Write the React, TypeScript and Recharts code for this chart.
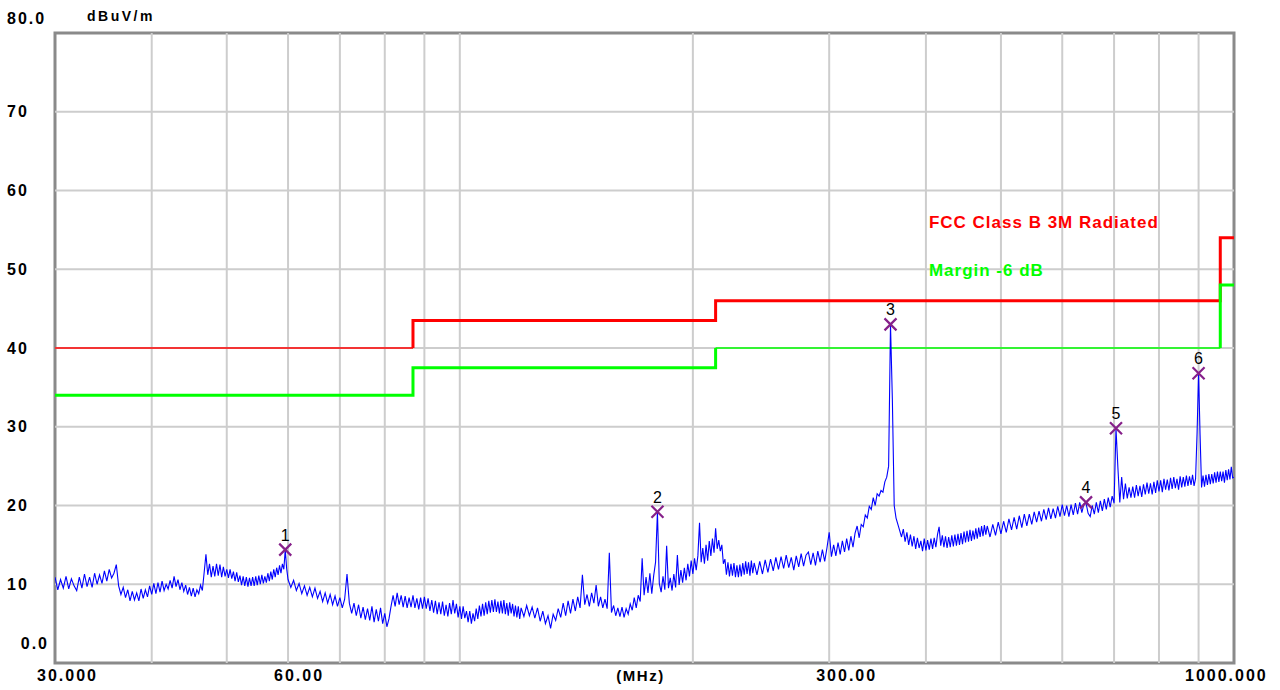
import React from "react";
import {
  ComposedChart,
  Line,
  XAxis,
  YAxis,
  ReferenceLine,
  ReferenceArea,
  ReferenceDot,
} from "recharts";

type P = [number, number];

// Measured trace (frequency MHz, level dBuV/m)
const trace30to60: P[] = [
  [30, 10.9], [30.25, 9.3], [30.5, 10.6], [30.75, 9.5], [31, 11.0], [31.25, 9.4], [31.5, 10.7], [31.75, 9.8], [32, 9.2],
  [32.25, 10.9], [32.5, 9.5], [32.75, 11.3], [33, 9.7], [33.25, 10.9], [33.5, 9.6], [33.75, 11.4], [34, 10.0],
  [34.25, 11.2], [34.5, 10.1], [34.75, 11.7], [35, 10.4], [35.25, 11.9], [35.5, 10.8], [35.75, 11.4], [36, 12.5],
  [36.25, 9.8], [36.5, 8.7], [36.75, 9.6], [37, 8.3], [37.25, 9.3], [37.5, 7.9], [37.75, 9.1], [38, 8.0],
  [38.25, 8.9], [38.5, 7.9], [38.75, 9.4], [39, 8.2], [39.25, 9.3], [39.5, 8.4], [39.75, 9.8], [40, 8.7],
  [40.25, 10.1], [40.5, 8.8], [40.75, 10.2], [41, 9.0], [41.25, 10.4], [41.5, 9.2], [41.75, 10.0], [42, 9.4],
  [42.25, 10.5], [42.5, 9.5], [42.75, 11.0], [43, 9.7], [43.25, 10.6], [43.5, 9.3], [43.75, 10.2], [44, 9.1],
  [44.25, 9.9], [44.5, 8.7], [44.75, 9.6], [45, 8.5], [45.25, 9.5], [45.5, 8.4], [45.75, 9.3], [46, 8.8],
  [46.25, 9.9], [46.5, 9.2], [46.75, 11.5], [47, 13.8], [47.25, 11.2], [47.5, 12.6], [47.75, 10.9], [48, 12.3],
  [48.25, 11.0], [48.5, 12.6], [48.75, 11.1], [49, 12.5], [49.25, 10.9], [49.5, 12.2], [49.75, 11.0], [50, 11.9],
  [50.25, 10.8], [50.5, 11.9], [50.75, 10.7], [51, 11.6], [51.25, 10.4], [51.5, 11.5], [51.75, 10.3], [52, 11.1],
  [52.25, 9.9], [52.5, 11.0], [52.75, 9.8], [53, 10.9], [53.25, 9.7], [53.5, 10.8], [53.75, 9.8], [54, 10.9],
  [54.25, 9.8], [54.5, 11.0], [54.75, 9.9], [55, 11.1], [55.25, 10.0], [55.5, 11.2], [55.75, 10.1], [56, 11.0],
  [56.25, 10.2], [56.5, 11.4], [56.75, 10.4], [57, 11.6], [57.25, 10.6], [57.5, 11.9], [57.75, 10.9], [58, 12.1],
  [58.25, 11.2], [58.5, 12.4], [58.75, 11.4], [59, 12.6], [59.25, 11.9], [59.5, 14.4], [59.75, 12.0], [60, 10.6],
];

const trace60to120: P[] = [
  [60.5, 9.6], [61, 10.5], [61.5, 9.2], [62, 10.1],
  [62.5, 8.8], [63, 9.8], [63.5, 8.6], [64, 9.6],
  [64.5, 8.4], [65, 9.5], [65.5, 8.2], [66, 9.1],
  [66.5, 7.8], [67, 8.9], [67.5, 7.6], [68, 8.7],
  [68.5, 7.4], [69, 8.5], [69.5, 7.2], [70, 8.3],
  [70.5, 7.0], [71, 8.1], [71.5, 11.3], [72, 7.6],
  [72.5, 6.3], [73, 7.6], [73.5, 6.0], [74, 7.4],
  [74.5, 5.7], [75, 7.1], [75.5, 5.5], [76, 6.9],
  [76.5, 5.4], [77, 7.2], [77.5, 5.2], [78, 6.8],
  [78.5, 5.3], [79, 7.0], [79.5, 5.0], [80, 6.3],
  [80.5, 4.6], [81, 5.6], [81.5, 7.2], [82, 8.6],
  [82.5, 7.2], [83, 8.9], [83.5, 7.4], [84, 8.6],
  [84.5, 7.1], [85, 8.5], [85.5, 7.0], [86, 8.3],
  [86.5, 7.1], [87, 8.6], [87.5, 7.0], [88, 8.2],
  [88.5, 6.8], [89, 8.3], [89.5, 6.9], [90, 8.4],
  [90.5, 6.9], [91, 8.2], [91.5, 6.6], [92, 8.0],
  [92.5, 6.4], [93, 7.9], [93.5, 6.2], [94, 7.7],
  [94.5, 6.2], [95, 7.8], [95.5, 6.0], [96, 7.4],
  [96.5, 5.9], [97, 7.6], [97.5, 6.2], [98, 8.0],
  [98.5, 6.3], [99, 7.5], [99.5, 5.8], [100, 7.2],
  [100.5, 5.6], [101, 7.2], [101.5, 5.7], [102, 6.6],
  [102.5, 5.2], [103, 6.6], [103.5, 5.0], [104, 6.3],
  [104.5, 5.3], [105, 6.9], [105.5, 5.6], [106, 7.3],
  [106.5, 5.9], [107, 7.5], [107.5, 6.0], [108, 7.7],
  [108.5, 6.2], [109, 7.9], [109.5, 6.4], [110, 8.0],
  [110.5, 6.5], [111, 8.1], [111.5, 6.5], [112, 7.8],
  [112.5, 6.3], [113, 7.9], [113.5, 6.3], [114, 8.0],
  [114.5, 6.2], [115, 7.6], [115.5, 6.0], [116, 7.7],
  [116.5, 6.3], [117, 7.5], [117.5, 5.9], [118, 7.3],
  [118.5, 5.8], [119, 7.2], [119.5, 5.6], [120, 7.0],
];

const trace120to240: P[] = [
  [121, 5.9], [122, 7.3], [123, 6.0], [124, 7.1], [125, 5.7],
  [126, 7.0], [127, 5.3], [128, 6.6], [129, 5.0], [130, 6.0],
  [131, 4.4], [132, 6.2], [133, 5.4], [134, 6.9], [135, 5.8],
  [136, 7.6], [137, 6.0], [138, 7.9], [139, 6.3], [140, 8.1],
  [141, 6.6], [142, 8.4], [143, 7.0], [144, 11.2], [145, 7.4],
  [146, 8.7], [147, 7.2], [148, 8.9], [149, 7.6], [150, 9.9],
  [151, 7.2], [152, 8.4], [153, 7.0], [154, 8.1], [155, 6.9],
  [156, 14.0], [157, 6.4], [158, 7.3], [159, 6.0], [160, 7.0],
  [161, 5.9], [162, 7.1], [163, 5.8], [164, 6.9], [165, 6.2],
  [166, 7.5], [167, 6.7], [168, 8.3], [169, 7.0], [170, 8.6],
  [171, 7.8], [172, 13.3], [173, 8.6], [174, 10.9], [175, 8.9],
  [176, 11.4], [177, 8.8], [178, 11.1], [179, 12.8], [180, 19.2],
  [181, 10.1], [182, 9.0], [183, 11.0], [184, 9.3], [185, 14.9],
  [186, 9.5], [187, 10.8], [188, 9.2], [189, 11.3], [190, 9.6],
  [191, 13.7], [192, 9.9], [193, 11.8], [194, 10.2], [195, 12.1],
  [196, 10.5], [197, 12.6], [198, 11.0], [199, 13.0], [200, 11.3],
  [201, 13.3], [202, 11.8], [203, 13.6], [204, 17.8], [205, 12.8],
  [206, 14.6], [207, 12.6], [208, 15.0], [209, 13.0], [210, 15.5],
  [211, 13.6], [212, 15.8], [213, 14.0], [214, 17.1], [215, 14.5],
  [216, 15.6], [217, 14.2], [218, 15.0], [219, 12.6], [220, 13.2],
  [221, 11.2], [222, 12.8], [223, 11.0], [224, 12.6], [225, 11.1],
  [226, 12.7], [227, 10.9], [228, 12.4], [229, 10.9], [230, 12.5],
  [231, 11.0], [232, 12.7], [233, 11.2], [234, 12.9], [235, 11.3],
  [236, 12.8], [237, 11.1], [238, 13.0], [239, 11.4], [240, 12.7],
];

const trace240to480: P[] = [
  [242, 11.2], [244, 12.9], [246, 11.3], [248, 13.1], [250, 11.5],
  [252, 13.2], [254, 11.7], [256, 13.4], [258, 11.9], [260, 13.5],
  [262, 12.0], [264, 13.7], [266, 12.1], [268, 13.4], [270, 11.8],
  [272, 13.6], [274, 12.2], [276, 13.9], [278, 12.3], [280, 13.7],
  [282, 14.1], [284, 12.5], [286, 14.0], [288, 12.4], [290, 14.2],
  [292, 12.8], [294, 14.4], [296, 12.9], [298, 14.6], [300, 16.6],
  [302, 13.5], [304, 15.0], [306, 13.6], [308, 15.3], [310, 13.8],
  [312, 15.5], [314, 14.1], [316, 15.8], [318, 14.3], [320, 16.1],
  [322, 14.7], [324, 16.5], [326, 17.4], [328, 15.9], [330, 17.6],
  [332, 17.3], [334, 18.8], [336, 18.4], [338, 19.9], [340, 19.5],
  [342, 21.0], [344, 20.0], [346, 21.5], [348, 21.2], [350, 21.9],
  [352, 21.7], [354, 23.0], [356, 23.6], [358, 25.0], [360, 43.0],
  [362, 33.5], [364, 20.0], [366, 18.4], [368, 17.6], [370, 16.8],
  [372, 16.0], [374, 17.0], [376, 15.4], [378, 16.6], [380, 15.0],
  [382, 16.3], [384, 14.8], [386, 16.1], [388, 14.5], [390, 15.9],
  [392, 14.6], [394, 15.5], [396, 14.2], [398, 15.8], [400, 14.3],
  [402, 15.6], [404, 14.4], [406, 15.8], [408, 14.5], [410, 15.9],
  [412, 14.7], [414, 16.3], [416, 17.3], [418, 14.9], [420, 16.2],
  [422, 14.7], [424, 16.1], [426, 14.6], [428, 16.0], [430, 14.7],
  [432, 16.2], [434, 14.8], [436, 16.3], [438, 14.9], [440, 16.4],
  [442, 15.0], [444, 16.5], [446, 15.1], [448, 16.7], [450, 15.3],
  [452, 16.8], [454, 15.4], [456, 16.9], [458, 15.5], [460, 16.8],
  [462, 15.7], [464, 17.1], [466, 15.8], [468, 17.2], [470, 16.0],
  [472, 17.4], [474, 16.1], [476, 17.5], [478, 16.3], [480, 17.4],
];

const trace480to1000: P[] = [
  [484, 16.0], [488, 17.6], [492, 16.2], [496, 17.9], [500, 16.4],
  [504, 18.0], [508, 16.6], [512, 18.3], [516, 16.9], [520, 18.5],
  [524, 17.0], [528, 18.7], [532, 17.2], [536, 18.9], [540, 17.4],
  [544, 18.9], [548, 17.6], [552, 19.2], [556, 17.9], [560, 19.3],
  [564, 18.0], [568, 19.5], [572, 18.2], [576, 19.7], [580, 18.3],
  [584, 19.6], [588, 18.4], [592, 19.9], [596, 18.6], [600, 20.1],
  [604, 18.7], [608, 20.0], [612, 18.6], [616, 20.1], [620, 18.8],
  [624, 20.3], [628, 18.9], [632, 20.4], [636, 19.1], [640, 20.2],
  [644, 20.3], [648, 19.0], [652, 18.6], [656, 20.0], [660, 18.9],
  [664, 20.4], [668, 19.1], [672, 20.6], [676, 19.3], [680, 20.8],
  [684, 19.5], [688, 21.0], [692, 19.8], [696, 21.2], [700, 20.3],
  [704, 29.8], [708, 24.8], [712, 20.4], [716, 23.6], [720, 20.8],
  [724, 22.8], [728, 20.9], [732, 22.3], [736, 21.0], [740, 22.4],
  [744, 21.0], [748, 22.6], [752, 21.2], [756, 22.5], [760, 21.1],
  [764, 22.7], [768, 21.4], [772, 22.9], [776, 21.5], [780, 22.8],
  [784, 21.4], [788, 23.0], [792, 21.6], [796, 23.2], [800, 21.8],
  [804, 23.2], [808, 21.7], [812, 23.4], [816, 22.0], [820, 23.3],
  [824, 21.9], [828, 23.5], [832, 22.1], [836, 23.6], [840, 22.2],
  [844, 23.4], [848, 22.0], [852, 23.7], [856, 22.3], [860, 23.6],
  [864, 22.4], [868, 23.8], [872, 22.5], [876, 23.7], [880, 22.6],
  [884, 23.9], [888, 22.5], [892, 23.4], [896, 29.2], [900, 36.8],
  [904, 29.0], [908, 22.3], [912, 23.8], [916, 22.4], [920, 23.9],
  [924, 22.6], [928, 24.0], [932, 22.7], [936, 24.0], [940, 22.8],
  [944, 24.2], [948, 22.9], [952, 24.3], [956, 23.0], [960, 24.3],
  [964, 23.1], [968, 24.3], [972, 22.9], [976, 24.5], [980, 23.2],
  [984, 24.6], [988, 23.3], [992, 24.9], [996, 23.5], [1000, 23.6],
];

// Limit lines (FCC Class B 3m) and -6 dB margin
const fccLimitThin: P[] = [[30, 40], [87, 40]];
const fccLimitThick: P[] = [[87, 40], [87, 43.5], [214, 43.5], [214, 46], [960, 46], [960, 54], [1000, 54]];
const marginThickLow: P[] = [[30, 34], [87, 34], [87, 37.5], [214, 37.5], [214, 40]];
const marginThin: P[] = [[214, 40], [960, 40]];
const marginThickHigh: P[] = [[960, 40], [960, 48], [1000, 48]];

// Peak markers
const markerFreqs = [59.5, 180, 360, 644, 704, 900];
const markerLevels = [14.4, 19.2, 43.0, 20.4, 29.8, 36.8];
const markerNames = ["1", "2", "3", "4", "5", "6"];

// Axis ticks & grid
const yTicks = [0, 10, 20, 30, 40, 50, 60, 70, 80];
const xTicks = [30, 60, 300, 1000];
const xTickLabels = ["30.000", "60.00", "300.00", "1000.000"];
const gridFreqs = [40, 50, 60, 70, 80, 90, 100, 200, 300, 400, 500, 600, 700, 800, 900];
const gridLevels = [10, 20, 30, 40, 50, 60, 70];

const rows = (pairs: P[]) => pairs.map(([f, v]) => ({ f, v }));
const traceRows = rows([
  ...trace30to60,
  ...trace60to120,
  ...trace120to240,
  ...trace240to480,
  ...trace480to1000,
]);

const FONT = "'Liberation Sans', Arial, sans-serif";

const YTick = (props: any) => {
  const { y, payload } = props;
  const v = payload.value;
  const label = v === 0 ? "0.0" : v === 80 ? "80.0" : String(v);
  const dy = v === 80 ? -14.5 : v === 0 ? -19.5 : 0;
  const isEnd = v === 0;
  return (
    <text
      x={isEnd ? 49 : 7}
      y={y + dy}
      dominantBaseline="central"
      textAnchor={isEnd ? "end" : "start"}
      fontFamily={FONT}
      fontWeight="bold"
      fontSize={16}
      letterSpacing={2}
      fill="#000"
    >
      {label}
    </text>
  );
};

const XTick = (props: any) => {
  const { x, y, payload } = props;
  const idx = xTicks.indexOf(payload.value);
  const offsets = [-18, -14, -13, -49];
  return (
    <text
      x={x + (offsets[idx] ?? 0)}
      y={y}
      dominantBaseline="central"
      textAnchor="start"
      fontFamily={FONT}
      fontWeight="bold"
      fontSize={16}
      letterSpacing={2}
      fill="#000"
    >
      {xTickLabels[idx] ?? ""}
    </text>
  );
};

const MarkerShape = (name: string) => (p: any) => {
  const { cx, cy } = p;
  const s = 6;
  return (
    <g>
      <path
        d={`M${cx - s},${cy - s}L${cx + s},${cy + s}M${cx + s},${cy - s}L${cx - s},${cy + s}`}
        stroke="#86208a"
        strokeWidth={2.2}
        fill="none"
      />
      <text
        x={cx}
        y={cy - 9}
        textAnchor="middle"
        fontFamily={FONT}
        fontSize={16}
        fill="#000"
      >
        {name}
      </text>
    </g>
  );
};

const TextShape = (text: string, color: string, dx: number, dy: number, size: number, spacing: number) => (p: any) => (
  <text
    x={p.cx + dx}
    y={p.cy + dy}
    dominantBaseline="central"
    fontFamily={FONT}
    fontWeight="bold"
    fontSize={size}
    letterSpacing={spacing}
    fill={color}
  >
    {text}
  </text>
);

export default function App() {
  return (
    <div style={{ position: "absolute", left: 0, top: 0, width: 1280, height: 690, background: "#fff" }}>
      <ComposedChart width={1280} height={690} margin={{ top: 33, right: 46, left: 0, bottom: 0 }}>
        <XAxis
          dataKey="f"
          type="number"
          scale="log"
          domain={[30, 1000]}
          allowDataOverflow
          ticks={xTicks}
          tick={<XTick />}
          tickLine={false}
          tickSize={0}
          tickMargin={12}
          axisLine={false}
          height={27}
          interval={0}
          label={(lp: any) => {
            const vb = lp.viewBox || { x: 55, y: 663, width: 1179 };
            return (
              <text
                x={vb.x + vb.width / 2 - 4}
                y={vb.y + 12}
                dominantBaseline="central"
                textAnchor="middle"
                fontFamily={FONT}
                fontWeight="bold"
                fontSize={15}
                letterSpacing={1.5}
                fill="#000"
              >
                (MHz)
              </text>
            );
          }}
        />
        <YAxis
          type="number"
          domain={[0, 80]}
          allowDataOverflow
          ticks={yTicks}
          tick={<YTick />}
          tickLine={false}
          axisLine={false}
          width={55}
          interval={0}
        />
        {gridLevels.map((v) => (
          <ReferenceLine key={`h${v}`} y={v} stroke="#cdcdcd" strokeWidth={2} />
        ))}
        {gridFreqs.map((f) => (
          <ReferenceLine key={`v${f}`} x={f} stroke="#cdcdcd" strokeWidth={2} />
        ))}
        <Line data={rows(fccLimitThin)} dataKey="v" stroke="#ff0000" strokeWidth={1.3} dot={false} activeDot={false} isAnimationActive={false} />
        <Line data={rows(fccLimitThick)} dataKey="v" stroke="#ff0000" strokeWidth={3} dot={false} activeDot={false} isAnimationActive={false} />
        <Line data={rows(marginThickLow)} dataKey="v" stroke="#00ff00" strokeWidth={3} dot={false} activeDot={false} isAnimationActive={false} />
        <Line data={rows(marginThin)} dataKey="v" stroke="#00ff00" strokeWidth={1.7} dot={false} activeDot={false} isAnimationActive={false} />
        <Line data={rows(marginThickHigh)} dataKey="v" stroke="#00ff00" strokeWidth={3} dot={false} activeDot={false} isAnimationActive={false} />
        <Line data={traceRows} dataKey="v" stroke="#0000ff" strokeWidth={1.1} dot={false} activeDot={false} isAnimationActive={false} />
        <ReferenceArea x1={30} x2={1000} y1={0} y2={80} fill="none" fillOpacity={0} stroke="#8a8a8a" strokeWidth={3} ifOverflow="visible" />
        {markerFreqs.map((f, i) => (
          <ReferenceDot
            key={`m${i}`}
            x={f}
            y={markerLevels[i]}
            r={6}
            ifOverflow="visible"
            shape={MarkerShape(markerNames[i])}
          />
        ))}
        <ReferenceDot x={400} y={56} r={1} ifOverflow="visible" shape={TextShape("FCC Class B 3M Radiated", "#ff0000", 3, 0, 17, 1)} />
        <ReferenceDot x={400} y={49.8} r={1} ifOverflow="visible" shape={TextShape("Margin -6 dB", "#00ff00", 3, 0, 17, 1)} />
        <ReferenceDot x={30} y={80} r={1} ifOverflow="visible" shape={TextShape("dBuV/m", "#000", 32, -17, 14, 2.5)} />
      </ComposedChart>
    </div>
  );
}
